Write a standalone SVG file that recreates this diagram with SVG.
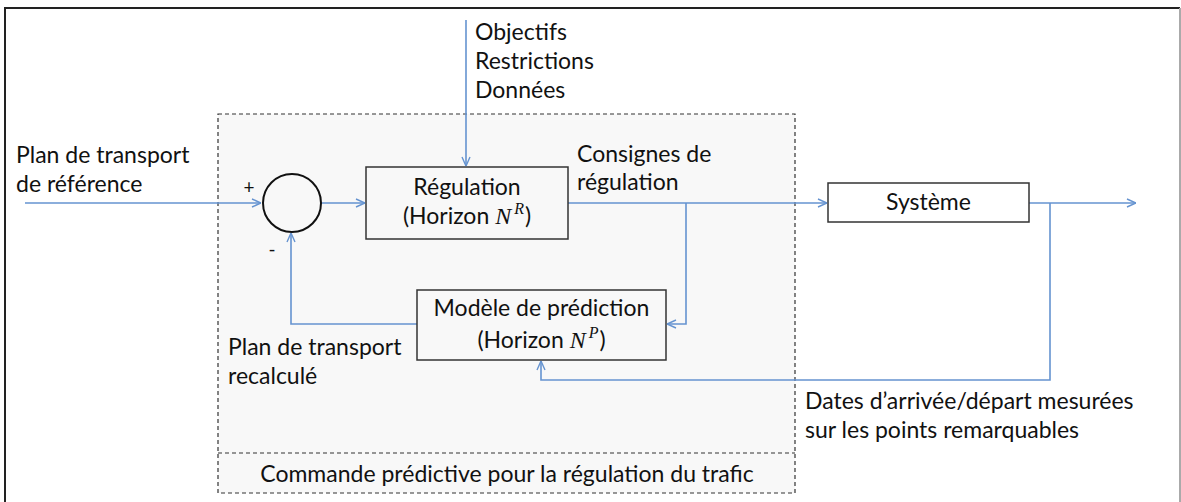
<svg xmlns="http://www.w3.org/2000/svg" width="1181" height="502" viewBox="0 0 1181 502">
<defs>
<style>
.t{font-family:Lato,"Open Sans","Liberation Sans",sans-serif;font-size:23px;fill:#111}
.m{font-family:"Liberation Serif",serif;font-style:italic;font-size:24px;fill:#111}
.sup{font-family:"Liberation Serif",serif;font-style:italic;font-size:16px;fill:#111}
.box{fill:none;stroke:#333;stroke-width:1.5}
.c{fill:none;stroke:#6593d0;stroke-width:1.6}
.dash{fill:#f8f8f8;stroke:#333;stroke-width:1.2;stroke-dasharray:4 3}
</style>
<marker id="ar" viewBox="0 0 10 10" refX="10" refY="5" markerWidth="10" markerHeight="10" markerUnits="userSpaceOnUse" orient="auto">
<path d="M1,1 L10,5 L1,9" fill="none" stroke="#6593d0" stroke-width="1.4"/>
</marker>
</defs>
<rect width="1181" height="502" fill="#fff"/>
<path d="M5,502 V8 H1180" fill="none" stroke="#222" stroke-width="2"/>
<line x1="1180" y1="8" x2="1180" y2="502" stroke="#aaa" stroke-width="2"/>
<g id="controller">
<rect class="dash" x="218" y="114" width="577" height="379"/>
<line x1="218" y1="453" x2="795" y2="453" stroke="#333" stroke-width="1.2" stroke-dasharray="4 3"/>
<text class="t" x="507" y="482" text-anchor="middle">Commande prédictive pour la régulation du trafic</text>
</g>
<g id="connectors">
<line class="c" x1="25" y1="203" x2="261" y2="203" marker-end="url(#ar)"/>
<line class="c" x1="321" y1="203" x2="365" y2="203" marker-end="url(#ar)"/>
<line class="c" x1="466" y1="20" x2="466" y2="166" marker-end="url(#ar)"/>
<line class="c" x1="568" y1="203" x2="827" y2="203" marker-end="url(#ar)"/>
<line class="c" x1="1029" y1="203" x2="1136" y2="203" marker-end="url(#ar)"/>
<polyline class="c" points="686,203 686,324 667,324" marker-end="url(#ar)"/>
<polyline class="c" points="417,324 291,324 291,233" marker-end="url(#ar)"/>
<polyline class="c" points="1050,203 1050,380 541,380 541,361" marker-end="url(#ar)"/>
</g>
<g id="sum">
<circle cx="292" cy="203" r="29" fill="none" stroke="#111" stroke-width="2"/>
<text class="t" x="249" y="194" text-anchor="middle" style="font-size:19px">+</text>
<text class="t" x="272" y="256" text-anchor="middle" style="font-size:19px">-</text>
</g>
<g id="regulation">
<rect class="box" x="366" y="167" width="202" height="72"/>
<text class="t" x="467" y="195" text-anchor="middle">Régulation</text>
<text class="t" x="467" y="224" text-anchor="middle">(Horizon <tspan class="m">N</tspan><tspan class="sup" dx="3" dy="-10">R</tspan><tspan dx="1" dy="10">)</tspan></text>
</g>
<g id="systeme">
<rect class="box" x="828" y="183" width="201" height="39"/>
<text class="t" x="928.5" y="210" text-anchor="middle">Système</text>
</g>
<g id="modele">
<rect class="box" x="417" y="290" width="249" height="70"/>
<text class="t" x="541.5" y="316" text-anchor="middle">Modèle de prédiction</text>
<text class="t" x="541.5" y="348" text-anchor="middle">(Horizon <tspan class="m">N</tspan><tspan class="sup" dx="3" dy="-10">P</tspan><tspan dx="1" dy="10">)</tspan></text>
</g>
<g id="labels">
<text class="t" x="475" y="40">Objectifs</text>
<text class="t" x="475" y="69">Restrictions</text>
<text class="t" x="475" y="98">Données</text>
<text class="t" x="16" y="163">Plan de transport</text>
<text class="t" x="16" y="192">de référence</text>
<text class="t" x="577" y="162">Consignes de</text>
<text class="t" x="577" y="190">régulation</text>
<text class="t" x="228" y="355">Plan de transport</text>
<text class="t" x="228" y="384">recalculé</text>
<text class="t" x="805" y="409">Dates d’arrivée/départ mesurées</text>
<text class="t" x="805" y="438">sur les points remarquables</text>
</g>
</svg>
